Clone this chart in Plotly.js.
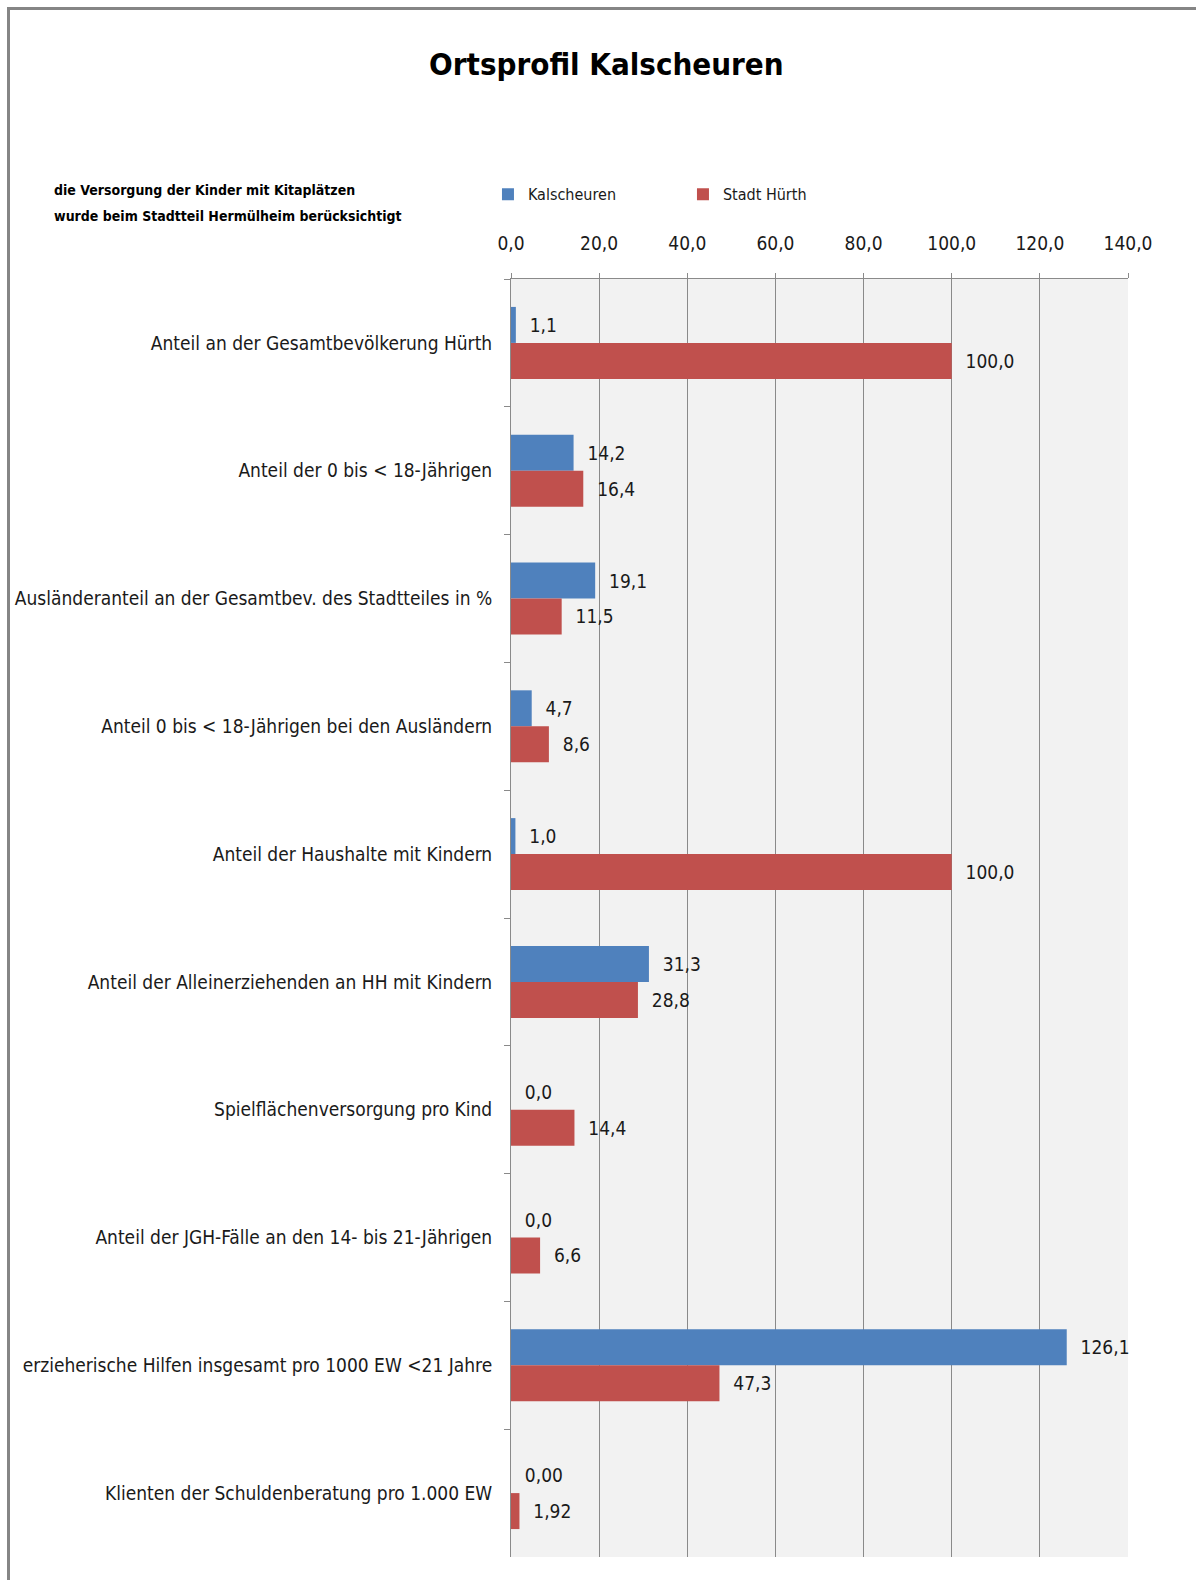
<!DOCTYPE html>
<html>
<head>
<meta charset="utf-8">
<script src="https://cdn.plot.ly/plotly-3.0.1.min.js"></script>
<style>
  html, body { margin: 0; padding: 0; background: #fff; }
  #wrap { position: relative; width: 1196px; height: 1580px; }
  #chart { position: absolute; left: 0; top: 0; width: 1196px; height: 1580px; }
  #frame { position: absolute; left: 7px; top: 7px; width: 1200px; height: 1600px;
           border-left: 3px solid #858585; border-top: 3px solid #858585; pointer-events: none; }
</style>
</head>
<body>
<div id="wrap">
  <div id="chart"></div>
  <div id="frame"></div>
</div>
<script>
const categories = [
  "Anteil an der Gesamtbevölkerung Hürth",
  "Anteil der 0 bis < 18-Jährigen",
  "Ausländeranteil an der Gesamtbev. des Stadtteiles in %",
  "Anteil 0 bis < 18-Jährigen bei den Ausländern",
  "Anteil der Haushalte mit Kindern",
  "Anteil der Alleinerziehenden an HH mit Kindern",
  "Spielflächenversorgung pro Kind",
  "Anteil der JGH-Fälle an den 14- bis 21-Jährigen",
  "erzieherische Hilfen insgesamt pro 1000 EW <21 Jahre",
  "Klienten der Schuldenberatung pro 1.000 EW"
];
const kalscheuren = [1.1, 14.2, 19.1, 4.7, 1.0, 31.3, 0.0, 0.0, 126.1, 0.00];
const stadtHuerth = [100.0, 16.4, 11.5, 8.6, 100.0, 28.8, 14.4, 6.6, 47.3, 1.92];
const kalscheurenLabels = ["1,1", "14,2", "19,1", "4,7", "1,0", "31,3", "0,0", "0,0", "126,1", "0,00"];
const stadtHuerthLabels = ["100,0", "16,4", "11,5", "8,6", "100,0", "28,8", "14,4", "6,6", "47,3", "1,92"];
const xTicks = [0, 20, 40, 60, 80, 100, 120, 140];
const noteLines = [
  "die Versorgung der Kinder mit Kitaplätzen",
  "wurde beim Stadtteil Hermülheim berücksichtigt"
];

const FONT = '"Liberation Sans Narrow", "DejaVu Sans Condensed", "Arial Narrow", sans-serif';
const pad = s => '\u00a0\u00a0' + s;

const traces = [
  {
    type: 'bar', orientation: 'h', name: 'Kalscheuren',
    x: kalscheuren, y: categories,
    marker: { color: '#4f81bd' },
    text: kalscheurenLabels.map(pad), textposition: 'outside',
    textfont: { family: FONT, size: 19, color: '#1a1a1a' },
    constraintext: 'none', cliponaxis: false, hoverinfo: 'x+y'
  },
  {
    type: 'bar', orientation: 'h', name: 'Stadt Hürth',
    x: stadtHuerth, y: categories,
    marker: { color: '#c0504d' },
    text: stadtHuerthLabels.map(pad), textposition: 'outside',
    textfont: { family: FONT, size: 19, color: '#1a1a1a' },
    constraintext: 'none', cliponaxis: false, hoverinfo: 'x+y'
  }
];

const layout = {
  width: 1196, height: 1580,
  paper_bgcolor: 'rgba(0,0,0,0)',
  plot_bgcolor: '#f2f2f2',
  separators: ',.',
  font: { family: FONT, size: 19, color: '#1a1a1a' },
  margin: { l: 511, r: 68, t: 279, b: 23, autoexpand: false },
  barmode: 'group',
  bargap: 0.437,
  bargroupgap: 0,
  title: {
    text: 'Ortsprofil Kalscheuren',
    font: { family: FONT, size: 31, weight: 'bold', color: '#000' },
    xref: 'container', yref: 'container',
    x: 0.507, y: 0.9595, xanchor: 'center', yanchor: 'middle'
  },
  xaxis: {
    side: 'top',
    range: [0, 140],
    tickvals: xTicks,
    tickformat: '.1f',
    showgrid: true, gridcolor: '#8a8a8a', gridwidth: 1,
    zeroline: false,
    showline: true, linecolor: '#8a8a8a', linewidth: 1,
    ticks: 'outside', ticklen: 5, tickcolor: '#8a8a8a',
    ticklabelstandoff: 15,
    tickfont: { family: FONT, size: 19, color: '#1a1a1a' },
    fixedrange: true
  },
  yaxis: {
    type: 'category',
    autorange: 'reversed',
    showline: true, linecolor: '#8a8a8a', linewidth: 1,
    ticks: 'outside', ticklen: 6, tickcolor: '#8a8a8a',
    tickson: 'boundaries',
    showgrid: false, zeroline: false,
    ticklabelstandoff: 14,
    tickfont: { family: FONT, size: 19, color: '#1a1a1a' },
    fixedrange: true
  },
  showlegend: true,
  legend: {
    orientation: 'h',
    xref: 'container', yref: 'container',
    x: 0.408, y: 0.877, xanchor: 'left', yanchor: 'middle',
    font: { family: FONT, size: 16, color: '#1a1a1a' },
    entrywidth: 150, entrywidthmode: 'pixels',
    bgcolor: 'rgba(0,0,0,0)', traceorder: 'normal'
  },
  annotations: [
    {
      text: noteLines[0],
      xref: 'paper', yref: 'paper',
      x: -0.744, y: 1.0696, xanchor: 'left', yanchor: 'middle', align: 'left',
      showarrow: false,
      font: { family: FONT, size: 14, weight: 'bold', color: '#000' }
    },
    {
      text: noteLines[1],
      xref: 'paper', yref: 'paper',
      x: -0.744, y: 1.0493, xanchor: 'left', yanchor: 'middle', align: 'left',
      showarrow: false,
      font: { family: FONT, size: 14, weight: 'bold', color: '#000' }
    }
  ]
};

Plotly.newPlot('chart', traces, layout, { displayModeBar: false, staticPlot: true });
</script>
</body>
</html>
